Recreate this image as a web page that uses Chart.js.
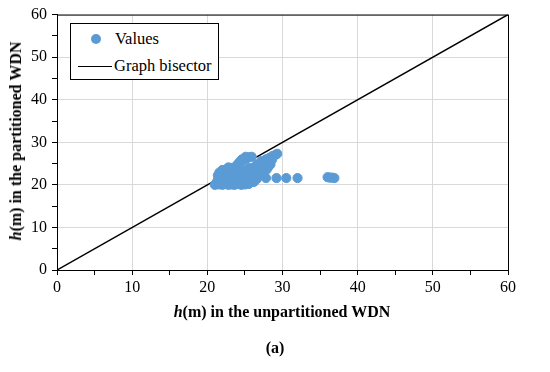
<!DOCTYPE html>
<html>
<head>
<meta charset="utf-8">
<script src="https://cdn.jsdelivr.net/npm/chart.js@4"></script>
<style>
  html, body { margin: 0; padding: 0; background: #fff; }
  #wrap { position: relative; width: 550px; height: 372px; font-family: "Liberation Serif", serif; }
  canvas { position: absolute; left: 0; top: 0; }
  .ttl { position: absolute; font-weight: bold; font-size: 16px; color: #000; white-space: nowrap; }
  #xTitle { left: 282px; top: 303px; transform: translateX(-50%); }
  #yTitle { left: 16px; top: 141px; transform: translate(-50%, -50%) rotate(-90deg); }
  #panel { left: 275px; top: 339px; transform: translateX(-50%); }
  #legend { position: absolute; left: 70px; top: 23px; width: 149px; height: 57px; border: 1px solid #000;
            box-sizing: border-box; background: #fff; font-size: 16.5px; color: #000; }
  .row { position: absolute; left: 0; height: 20px; line-height: 20px; white-space: nowrap; }
  .dot { position: absolute; left: 20px; top: 5px; width: 10px; height: 10px; border-radius: 50%; background: #5b9bd5; }
  .ln { position: absolute; left: 7px; top: 10px; width: 34px; height: 0; border-top: 1.5px solid #000; }
</style>
</head>
<body>
<div id="wrap">
  <canvas id="chart" width="550" height="372"></canvas>
  <div class="ttl" id="yTitle"><i>h</i>(m) in the partitioned WDN</div>
  <div class="ttl" id="xTitle"><i>h</i>(m) in the unpartitioned WDN</div>
  <div class="ttl" id="panel">(a)</div>
  <div id="legend">
    <div class="row" style="top:5px"><span class="dot"></span><span style="position:absolute;left:44px">Values</span></div>
    <div class="row" style="top:32px"><span class="ln"></span><span style="position:absolute;left:43px">Graph bisector</span></div>
  </div>
</div>
<script>
// head in the unpartitioned network (x) vs partitioned network (y)
const hUnpart = [
  21.0, 21.5, 22.0, 22.4, 22.8, 23.2, 23.6, 24.0, 24.5, 25.0, 25.5,
  21.3, 21.8, 22.3, 22.7, 23.1, 23.6, 24.1, 24.6, 25.2, 25.8, 26.2,
  21.5, 22.0, 22.5, 23.0, 23.4, 23.9, 24.4, 24.9, 25.4, 26.0, 26.6,
  21.4, 21.9, 22.4, 22.9, 23.3, 23.8, 24.3, 24.8, 25.3, 25.9, 26.5, 27.0,
  21.6, 22.1, 22.6, 23.1, 23.6, 24.1, 24.6, 25.2, 25.7, 26.3, 26.9, 27.4,
  22.0, 22.5, 23.0, 23.5, 24.0, 24.6, 25.4, 26.1, 26.8, 27.4, 27.9,
  22.8, 23.3, 23.8, 24.4, 25.6, 26.3, 27.0, 27.6, 28.1,
  24.0, 26.6, 27.3, 27.9, 28.4,
  24.3, 24.8, 25.2, 25.6, 25.9, 24.6, 25.1,
  27.2, 27.8, 28.3, 28.7, 29.1, 29.3, 28.0, 28.6,
  27.8, 29.2, 30.5, 32.0, 36.0, 36.3, 36.6, 36.9
];
const hPart = [
  20.0, 20.1, 20.0, 20.2, 20.0, 20.1, 20.0, 20.2, 20.0, 20.1, 20.2,
  20.8, 20.7, 20.9, 20.8, 20.7, 20.9, 20.8, 20.7, 20.9, 20.8, 20.7,
  21.5, 21.4, 21.6, 21.5, 21.4, 21.6, 21.5, 21.4, 21.6, 21.5, 21.4,
  22.2, 22.1, 22.3, 22.2, 22.1, 22.3, 22.2, 22.1, 22.3, 22.2, 22.1, 22.3,
  22.9, 22.8, 23.0, 22.9, 22.8, 23.0, 22.9, 22.8, 23.0, 22.9, 22.8, 23.0,
  23.5, 23.6, 23.4, 23.5, 23.6, 23.4, 23.5, 23.6, 23.4, 23.5, 23.6,
  24.1, 24.0, 24.2, 24.1, 24.0, 24.2, 24.1, 24.0, 24.2,
  24.8, 24.8, 24.9, 24.7, 24.8,
  25.4, 25.8, 26.2, 26.5, 26.6, 26.0, 26.6,
  25.6, 26.0, 26.4, 26.8, 27.1, 27.3, 25.4, 25.9,
  21.6, 21.6, 21.6, 21.6, 21.8, 21.7, 21.7, 21.6
];
const bisectorX = [0, 60];
const bisectorY = [0, 60];

const serif = { family: 'Liberation Serif', size: 16 };

const framePlugin = {
  id: 'frame',
  afterDatasetsDraw(chart) {
    const a = chart.chartArea, ctx = chart.ctx;
    ctx.save();
    ctx.strokeStyle = '#000';
    ctx.lineWidth = 1;
    ctx.strokeRect(a.left + 0.5, a.top + 0.5, a.right - a.left, a.bottom - a.top);
    ctx.restore();
  }
};

new Chart(document.getElementById('chart'), {
  type: 'scatter',
  data: {
    datasets: [{
      label: 'Values',
      data: hUnpart.map((x, i) => ({ x: x, y: hPart[i] })),
      backgroundColor: '#5b9bd5',
      borderColor: '#5b9bd5',
      pointRadius: 4.6,
      pointHoverRadius: 4.6
    }, {
      label: 'Graph bisector',
      data: bisectorX.map((x, i) => ({ x: x, y: bisectorY[i] })),
      showLine: true,
      borderColor: '#000',
      borderWidth: 1.5,
      pointRadius: 0
    }]
  },
  options: {
    responsive: false,
    animation: false,
    layout: { padding: { left: 0, top: 13, right: 42, bottom: 0 } },
    plugins: { legend: { display: false }, tooltip: { enabled: false } },
    scales: {
      x: {
        min: 0, max: 60,
        afterFit: s => { s.height = 102; },
        ticks: {
          stepSize: 5, autoSkip: false, maxRotation: 0, padding: 3,
          color: '#000', font: serif,
          callback: v => (v % 10 === 0 ? v : '')
        },
        grid: {
          color: c => (c.tick && c.tick.value % 10 === 0 ? '#d9d9d9' : 'rgba(0,0,0,0)'),
          tickColor: '#000', tickLength: 5, lineWidth: 1
        },
        border: { color: '#000', width: 1 }
      },
      y: {
        min: 0, max: 60,
        afterFit: s => { s.width = 57; },
        ticks: {
          stepSize: 5, autoSkip: false, padding: 5,
          color: '#000', font: serif,
          callback: v => (v % 10 === 0 ? v : '')
        },
        grid: {
          color: c => (c.tick && c.tick.value % 10 === 0 ? '#d9d9d9' : 'rgba(0,0,0,0)'),
          tickColor: '#000', tickLength: 5, lineWidth: 1
        },
        border: { color: '#000', width: 1 }
      }
    }
  },
  plugins: [framePlugin]
});
</script>
</body>
</html>
